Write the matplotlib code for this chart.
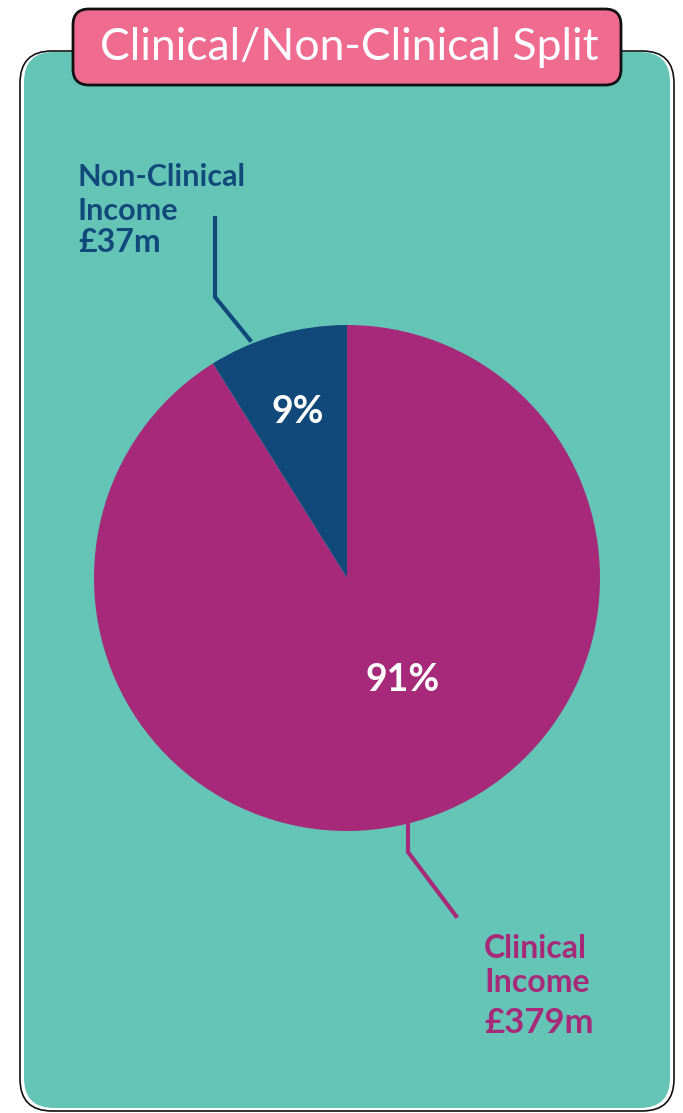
import matplotlib
matplotlib.use("Agg")
import matplotlib.pyplot as plt
from matplotlib.patches import FancyBboxPatch

# income split, £m
categories = ["Non-Clinical Income", "Clinical Income"]
income = [37, 379]
colours = ["#114A7A", "#A62A79"]

W, H = 683, 1113
plt.rcParams['font.family'] = ['Lato', 'DejaVu Sans']

fig = plt.figure(figsize=(W / 100, H / 100), dpi=100)
ax = fig.add_axes([0, 0, 1, 1])

def py(y):
    # pixel rows counted from the top
    return H - y

# teal panel with a loose black outline
panel = FancyBboxPatch((24, py(1108)), 646, 1056,
                       boxstyle="round,pad=0,rounding_size=30",
                       fc="#64C5B7", ec="none", zorder=0)
ax.add_patch(panel)
outline = FancyBboxPatch((20, py(1111)), 654, 1060,
                         boxstyle="round,pad=0,rounding_size=32",
                         fc="none", ec="#111111", lw=1.2, zorder=1)
ax.add_patch(outline)

# pink title tab
tab = FancyBboxPatch((73, py(85)), 548, 76,
                     boxstyle="round,pad=0,rounding_size=16",
                     fc="#EF6B90", ec="#111111", lw=2.0, zorder=2)
ax.add_patch(tab)
ax.text(349, py(47), "Clinical/Non-Clinical Split", color="white",
        fontsize=32, ha="center", va="center", zorder=3)

# pie
cx, cy, r = 347, py(578), 253
ax.pie(income, colors=colours, startangle=90, counterclock=True,
       center=(cx, cy), radius=r, wedgeprops=dict(linewidth=0),
       frame=True)
ax.set_xlim(0, W)
ax.set_ylim(0, H)
ax.set_aspect('equal')
ax.axis('off')

total = sum(income)
pcts = [round(v / total * 100) for v in income]
ax.text(298, py(412), f"{pcts[0]}%", color="white", fontsize=27,
        fontweight="bold", ha="center", va="center", zorder=4)
ax.text(403, py(680), f"{pcts[1]}%", color="white", fontsize=27,
        fontweight="bold", ha="center", va="center", zorder=4)

# leader lines
ax.plot([215, 215, 250], [py(218), py(297), py(340)], color=colours[0],
        lw=3, solid_joinstyle="miter", zorder=3)
ax.plot([408, 408, 456], [py(823), py(852), py(916)], color=colours[1],
        lw=3, solid_joinstyle="miter", zorder=3)

# category labels, one line at a time
nc_first, nc_second = categories[0].rsplit(" ", 1)
ax.text(78, py(177), nc_first, color=colours[0], fontsize=22,
        fontweight="bold", ha="left", va="center")
ax.text(78, py(211), nc_second, color=colours[0], fontsize=22,
        fontweight="bold", ha="left", va="center")
ax.text(78, py(243), f"£{income[0]}m", color=colours[0], fontsize=23,
        fontweight="bold", ha="left", va="center")

c_first, c_second = categories[1].rsplit(" ", 1)
ax.text(484, py(948), c_first, color=colours[1], fontsize=23,
        fontweight="bold", ha="left", va="center")
ax.text(484, py(983), c_second, color=colours[1], fontsize=23,
        fontweight="bold", ha="left", va="center")
ax.text(484, py(1023), f"£{income[1]}m", color=colours[1], fontsize=25,
        fontweight="bold", ha="left", va="center")

fig.savefig("out.png", dpi=100, facecolor="white")
